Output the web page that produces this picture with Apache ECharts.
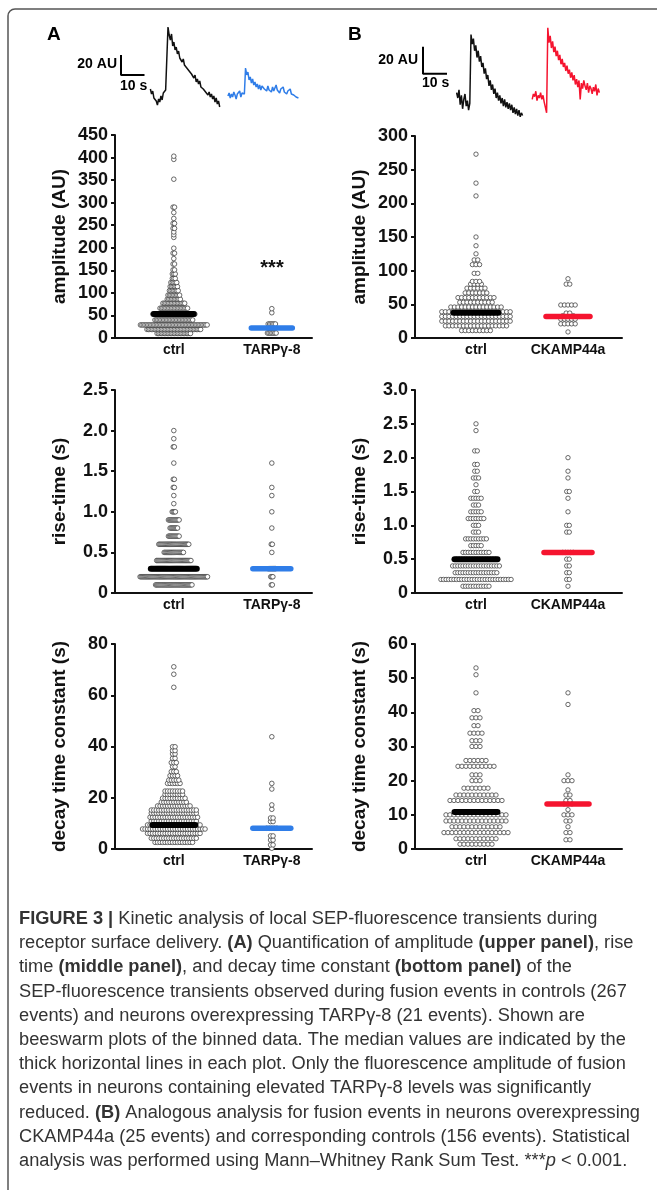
<!DOCTYPE html>
<html><head><meta charset="utf-8">
<script src="https://cdn.jsdelivr.net/npm/echarts@6/dist/echarts.min.js"></script>
<style>html,body{margin:0;padding:0;background:#fff}#c{width:657px;height:1190px}</style>
</head><body><div id="c"></div><script>
// ================= DATA =================
const categoriesA = ['ctrl', 'TARPγ-8'];
const categoriesB = ['ctrl', 'CKAMP44a'];

// Example traces (AU), sampled every 0.5 s
const traceDt = 0.5;
const traceA_ctrl_t0 = 12.5;
const traceA_ctrl = [31,26,29,22,24,19,15,21,18,24,20,27,25,30,29,93,85,80,86,74,78,70,73,66,69,62,64,58,61,55,57,52,54,49,51,46,47,42,45,38,41,36,39,33,35,31,33,28,30,25,28,23,26,21,24,18,22,16,19,13];
const traceA_tarp_t0 = 45.5;
const traceA_tarp = [24,27,22,26,23,28,25,21,26,24,29,23,27,25,26,52,45,48,40,43,37,41,35,38,33,36,31,35,30,34,36,31,33,29,34,30,32,28,33,29,31,35,30,32,27,31,29,33,28,30,26,29,27,31,26,28,25,27,23,25,22];
const traceB_ctrl_t0 = 14;
const traceB_ctrl = [24,20,26,15,22,12,19,23,14,18,11,16,67,60,64,55,59,50,55,47,51,43,46,38,42,34,37,29,33,26,30,23,27,20,24,18,22,16,20,14,19,13,17,12,16,11,15,9,13,8,12,7,11,6,9,7];
const traceB_ck_t0 = 45.5;
const traceB_ck = [19,23,21,25,18,22,20,24,19,22,17,13,9,72,61,66,57,62,54,58,51,55,48,52,45,49,43,46,40,44,38,41,35,39,33,37,30,34,28,33,19,31,27,33,29,26,31,24,29,27,23,28,25,30,22,27,24];
const scaleBar_AU = 20;
const scaleBar_s = 10;

// Beeswarm bins (value) and number of events per bin
const ampA_ctrl_bins   = [10,19,29,40,53,66,77,86,95,105,114,123,132,142,151,164,176,188,199,223,229,235,243,254,265,278,290,352,396,403];
const ampA_ctrl_counts = [24,38,47,27,30,20,16,10,9,7,6,5,3,3,2,2,1,2,1,1,1,1,2,2,1,1,2,1,1,1];
const ampA_tarp_bins   = [11,22,31,56,65];
const ampA_tarp_counts = [7,6,6,1,1];
const ampA_medians     = [53, 22];

const riseA_ctrl_bins   = [0.1,0.2,0.3,0.4,0.5,0.6,0.7,0.8,0.9,1.0,1.1,1.2,1.3,1.4,1.6,1.8,1.9,2.0];
const riseA_ctrl_counts = [35,64,42,33,19,29,11,8,11,4,1,1,2,2,1,2,1,1];
const riseA_tarp_bins   = [0.1,0.2,0.3,0.5,0.6,0.8,1.0,1.2,1.3,1.6];
const riseA_tarp_counts = [2,3,8,1,2,1,1,1,1,1];
const riseA_medians     = [0.3, 0.3];

const decayA_ctrl_bins   = [2.6,4.2,6.1,7.8,9.4,10.9,12.4,14.0,15.2,16.8,18.3,19.8,21.3,22.6,25.6,26.9,28.6,30.2,32.1,33.7,35.4,37.1,38.4,39.9,63.1,68.2,71.1];
const decayA_ctrl_counts = [16,19,22,26,22,19,20,19,19,14,11,10,8,8,6,5,4,3,2,3,2,2,2,2,1,1,1];
const decayA_tarp_bins   = [0.3,1.6,3.5,5.1,8.1,10.7,12.1,15.5,17.2,23.4,25.6,43.8];
const decayA_tarp_counts = [1,2,2,2,5,2,2,1,1,1,1,1];
const decayA_medians     = [9.4, 8.1];

const ampB_ctrl_bins   = [11,18,25,32,39,46,53,60,67,74,80,84,96,109,116,125,137,150,211,230,273];
const ampB_ctrl_counts = [9,18,20,20,20,15,10,11,7,6,4,3,2,3,2,1,1,1,1,1,1];
const ampB_ck_bins     = [9,21,28,33,37,49,80,88];
const ampB_ck_counts   = [1,5,5,4,2,5,2,1];
const ampB_medians     = [37.6, 32];

const riseB_ctrl_bins   = [0.1,0.2,0.3,0.4,0.5,0.6,0.7,0.8,0.9,1.0,1.1,1.2,1.3,1.4,1.5,1.6,1.7,1.8,1.9,2.1,2.4,2.5];
const riseB_ctrl_counts = [11,28,17,19,16,11,5,9,3,3,7,5,3,5,2,1,3,2,2,2,1,1];
const riseB_ck_bins     = [0.1,0.2,0.3,0.4,0.5,0.6,0.9,1.0,1.2,1.4,1.5,1.7,1.8,2.0];
const riseB_ck_counts   = [1,2,2,2,2,5,2,2,1,1,2,1,1,1];
const riseB_medians     = [0.5, 0.6];

const decayB_ctrl_bins   = [1.4,3.0,4.8,6.5,8.2,10.0,14.2,15.8,17.8,20.0,21.7,24.2,25.9,30.0,31.7,33.9,36.1,38.4,40.5,45.7,51.0,53.0];
const decayB_ctrl_counts = [9,11,17,13,16,16,14,11,7,3,3,10,6,3,3,4,2,3,2,1,1,1];
const decayB_ck_bins     = [2.7,4.8,6.5,8.2,10.0,11.5,13.2,14.2,15.8,17.3,20.0,21.7,42.3,45.7];
const decayB_ck_counts   = [2,2,1,2,3,1,3,2,2,1,3,1,1,1];
const decayB_medians     = [10.8, 13.2];

const captionLines = [
  [['b','FIGURE 3 | '],['n','Kinetic analysis of local SEP-fluorescence transients during']],
  [['n','receptor surface delivery. '],['b','(A)'],['n',' Quantification of amplitude '],['b','(upper panel)'],['n',', rise']],
  [['n','time '],['b','(middle panel)'],['n',', and decay time constant '],['b','(bottom panel)'],['n',' of the']],
  [['n','SEP-fluorescence transients observed during fusion events in controls (267']],
  [['n','events) and neurons overexpressing TARPγ-8 (21 events). Shown are']],
  [['n','beeswarm plots of the binned data. The median values are indicated by the']],
  [['n','thick horizontal lines in each plot. Only the fluorescence amplitude of fusion']],
  [['n','events in neurons containing elevated TARPγ-8 levels was significantly']],
  [['n','reduced. '],['b','(B)'],['n',' Analogous analysis for fusion events in neurons overexpressing']],
  [['n','CKAMP44a (25 events) and corresponding controls (156 events). Statistical']],
  [['n','analysis was performed using Mann–Whitney Rank Sum Test. ***'],['i','p'],['n',' < 0.001.']]
];

// ================= STYLE / LAYOUT =================
const FONT = '"Liberation Sans", Arial, Helvetica, sans-serif';
const BLUE = '#2f7de8', RED = '#f5142f', INK = '#111';
const fmtInt = v => String(v);
const fmtDec = v => (v === 0 ? '0' : v.toFixed(1));

const panels = [
  {grid:{left:115,top:135,width:197,height:203}, xr:[0.4,2.41], ymax:450, yi:50, name:'amplitude (AU)', cats:categoriesA,
   bins:[ampA_ctrl_bins, ampA_tarp_bins], counts:[ampA_ctrl_counts, ampA_tarp_counts], med:ampA_medians, mc:['#000',BLUE], barPx:[40,41], sp:1.45, sym:4.6, fmt:fmtInt},
  {grid:{left:115,top:390,width:197,height:203}, xr:[0.4,2.41], ymax:2.5, yi:0.5, name:'rise-time (s)', cats:categoriesA,
   bins:[riseA_ctrl_bins, riseA_tarp_bins], counts:[riseA_ctrl_counts, riseA_tarp_counts], med:riseA_medians, mc:['#000',BLUE], barPx:[46,38], sp:1.07, sym:4.6, fmt:fmtDec},
  {grid:{left:115,top:644,width:197,height:205}, xr:[0.4,2.41], ymax:80, yi:20, name:'decay time constant (s)', cats:categoriesA,
   bins:[decayA_ctrl_bins, decayA_tarp_bins], counts:[decayA_ctrl_counts, decayA_tarp_counts], med:decayA_medians, mc:['#000',BLUE], barPx:[43,38], sp:2.5, sym:4.6, fmt:fmtInt},
  {grid:{left:415,top:136,width:207,height:202}, xr:[0.337,2.587], ymax:300, yi:50, name:'amplitude (AU)', cats:categoriesB,
   bins:[ampB_ctrl_bins, ampB_ck_bins], counts:[ampB_ctrl_counts, ampB_ck_counts], med:ampB_medians, mc:['#000',RED], barPx:[45,44], sp:3.6, sym:4.4, fmt:fmtInt},
  {grid:{left:415,top:390,width:207,height:203}, xr:[0.337,2.587], ymax:3.0, yi:0.5, name:'rise-time (s)', cats:categoriesB,
   bins:[riseB_ctrl_bins, riseB_ck_bins], counts:[riseB_ctrl_counts, riseB_ck_counts], med:riseB_medians, mc:['#000',RED], barPx:[43,48], sp:2.6, sym:4.4, fmt:fmtDec},
  {grid:{left:415,top:644,width:207,height:205}, xr:[0.337,2.587], ymax:60, yi:10, name:'decay time constant (s)', cats:categoriesB,
   bins:[decayB_ctrl_bins, decayB_ck_bins], counts:[decayB_ctrl_counts, decayB_ck_counts], med:decayB_medians, mc:['#000',RED], barPx:[43,42], sp:4.0, sym:4.4, fmt:fmtInt}
];

function swarm(bins, counts, center, step) {
  const out = [];
  bins.forEach((v, i) => {
    const n = counts[i];
    for (let k = 0; k < n; k++) out.push([center + (k - (n - 1) / 2) * step, v]);
  });
  return out;
}

const grids = [], xAxes = [], yAxes = [], series = [];
panels.forEach((p, i) => {
  grids.push(Object.assign({}, p.grid));
  const ppu = p.grid.width / (p.xr[1] - p.xr[0]);
  xAxes.push({
    gridIndex: i, type: 'value', min: p.xr[0], max: p.xr[1],
    axisLine: {onZero: false, lineStyle: {color: INK, width: 2}},
    axisTick: {show: false}, splitLine: {show: false},
    axisLabel: {customValues: [1, 2], formatter: v => p.cats[Math.round(v) - 1], margin: 5,
      color: INK, fontFamily: FONT, fontWeight: 'bold', fontSize: 14}
  });
  yAxes.push({
    gridIndex: i, type: 'value', min: 0, max: p.ymax, interval: p.yi,
    name: p.name, nameLocation: 'middle', nameRotate: 90, nameGap: 46,
    nameTextStyle: {color: INK, fontFamily: FONT, fontWeight: 'bold', fontSize: 19},
    axisLine: {show: true, onZero: false, lineStyle: {color: INK, width: 2}},
    axisTick: {show: true, length: 4, lineStyle: {color: INK, width: 2}},
    splitLine: {show: false},
    axisLabel: {formatter: p.fmt, margin: 7, color: INK, fontFamily: FONT, fontWeight: 'bold', fontSize: 18}
  });
  [0, 1].forEach(g => {
    series.push({
      type: 'scatter', xAxisIndex: i, yAxisIndex: i, silent: true, z: 2,
      symbol: 'circle', symbolSize: p.sym,
      itemStyle: {color: '#fff', borderColor: '#3a3a3a', borderWidth: 0.75, opacity: 1},
      data: swarm(p.bins[g], p.counts[g], g + 1, p.sp / ppu)
    });
  });
  [0, 1].forEach(g => {
    const hw = p.barPx[g] / 2 / ppu;
    series.push({
      type: 'line', xAxisIndex: i, yAxisIndex: i, silent: true, z: 3, symbol: 'none',
      lineStyle: {color: p.mc[g], width: g === 0 ? 6 : 5.5, cap: 'round'},
      data: [[g + 1 - hw, p.med[g]], [g + 1 + hw, p.med[g]]]
    });
  });
});

// trace grids
const traceGrids = [
  {grid:{left:121, top:20, width:199.75, height:100}, ymax:100, traces:[[traceA_ctrl_t0, traceA_ctrl, '#111'], [traceA_tarp_t0, traceA_tarp, BLUE]], barAnchor:[0,45]},
  {grid:{left:423, top:23.75, width:204, height:101.25}, ymax:75, traces:[[traceB_ctrl_t0, traceB_ctrl, '#111'], [traceB_ck_t0, traceB_ck, RED]], barAnchor:[0,38]}
];
traceGrids.forEach((tg, j) => {
  const gi = grids.length;
  grids.push(tg.grid);
  xAxes.push({gridIndex: gi, type: 'value', min: 0, max: 85, show: false});
  yAxes.push({gridIndex: gi, type: 'value', min: 0, max: tg.ymax, show: false});
  tg.traces.forEach(tr => {
    series.push({type: 'line', xAxisIndex: gi, yAxisIndex: gi, silent: true, symbol: 'none',
      lineStyle: {color: tr[2], width: 1.5}, data: tr[1].map((v, k) => [tr[0] + k * traceDt, v])});
  });
  const a = tg.barAnchor;
  series.push({type: 'line', xAxisIndex: gi, yAxisIndex: gi, silent: true, symbol: 'none',
    lineStyle: {color: '#000', width: 2}, data: [[a[0], a[1] + scaleBar_AU], [a[0], a[1]], [a[0] + scaleBar_s, a[1]]]});
});

// caption
const CAP_SIZE = 18, CAP_X = 19, CAP_RIGHT = 640, CAP_Y0 = 919, CAP_DY = 24.2;
const cv = document.createElement('canvas').getContext('2d');
function segW(s) {
  cv.font = (s[0] === 'b' ? 'bold ' : s[0] === 'i' ? 'italic ' : '') + CAP_SIZE + 'px ' + FONT;
  return cv.measureText(s[1]).width;
}
const refW = captionLines[8].reduce((a, s) => a + segW(s), 0);
const capScale = (CAP_RIGHT - CAP_X) / refW;
const capStyle = {fontSize: CAP_SIZE, fontFamily: FONT, fill: '#333'};
const graphics = [
  {type: 'rect', silent: true, shape: {x: 8, y: 9, width: 800, height: 1400, r: 7}, style: {fill: 'none', stroke: '#555', lineWidth: 1.5}},
  {type: 'text', x: 47, y: 35, style: {text: 'A', fontSize: 19, fontWeight: 'bold', fontFamily: FONT, fill: '#000', verticalAlign: 'middle'}},
  {type: 'text', x: 348, y: 35, style: {text: 'B', fontSize: 19, fontWeight: 'bold', fontFamily: FONT, fill: '#000', verticalAlign: 'middle'}},
  {type: 'text', x: 117, y: 64, style: {text: '20 AU', fontSize: 14, fontWeight: 'bold', fontFamily: FONT, fill: '#000', align: 'right', verticalAlign: 'middle'}},
  {type: 'text', x: 120, y: 86, style: {text: '10 s', fontSize: 14, fontWeight: 'bold', fontFamily: FONT, fill: '#000', verticalAlign: 'middle'}},
  {type: 'text', x: 418, y: 60, style: {text: '20 AU', fontSize: 14, fontWeight: 'bold', fontFamily: FONT, fill: '#000', align: 'right', verticalAlign: 'middle'}},
  {type: 'text', x: 422, y: 83, style: {text: '10 s', fontSize: 14, fontWeight: 'bold', fontFamily: FONT, fill: '#000', verticalAlign: 'middle'}},
  {type: 'text', x: 272, y: 268, style: {text: '***', fontSize: 20, fontWeight: 'bold', fontFamily: FONT, fill: '#111', align: 'center', verticalAlign: 'middle'}}
];
captionLines.forEach((line, k) => {
  const txt = line.map(s => s[0] === 'n' ? s[1] : '{' + s[0] + '|' + s[1] + '}').join('');
  graphics.push({
    type: 'text', silent: true, x: CAP_X, y: CAP_Y0 + k * CAP_DY, scaleX: capScale,
    style: Object.assign({text: txt, verticalAlign: 'middle',
      rich: {b: Object.assign({fontWeight: 'bold'}, capStyle), i: Object.assign({fontStyle: 'italic'}, capStyle)}}, capStyle)
  });
});

const chart = echarts.init(document.getElementById('c'), null, {renderer: 'canvas', width: 657, height: 1190});
chart.setOption({
  animation: false,
  backgroundColor: '#fff',
  grid: grids, xAxis: xAxes, yAxis: yAxes, series: series,
  graphic: {elements: graphics}
});
</script></body></html>
